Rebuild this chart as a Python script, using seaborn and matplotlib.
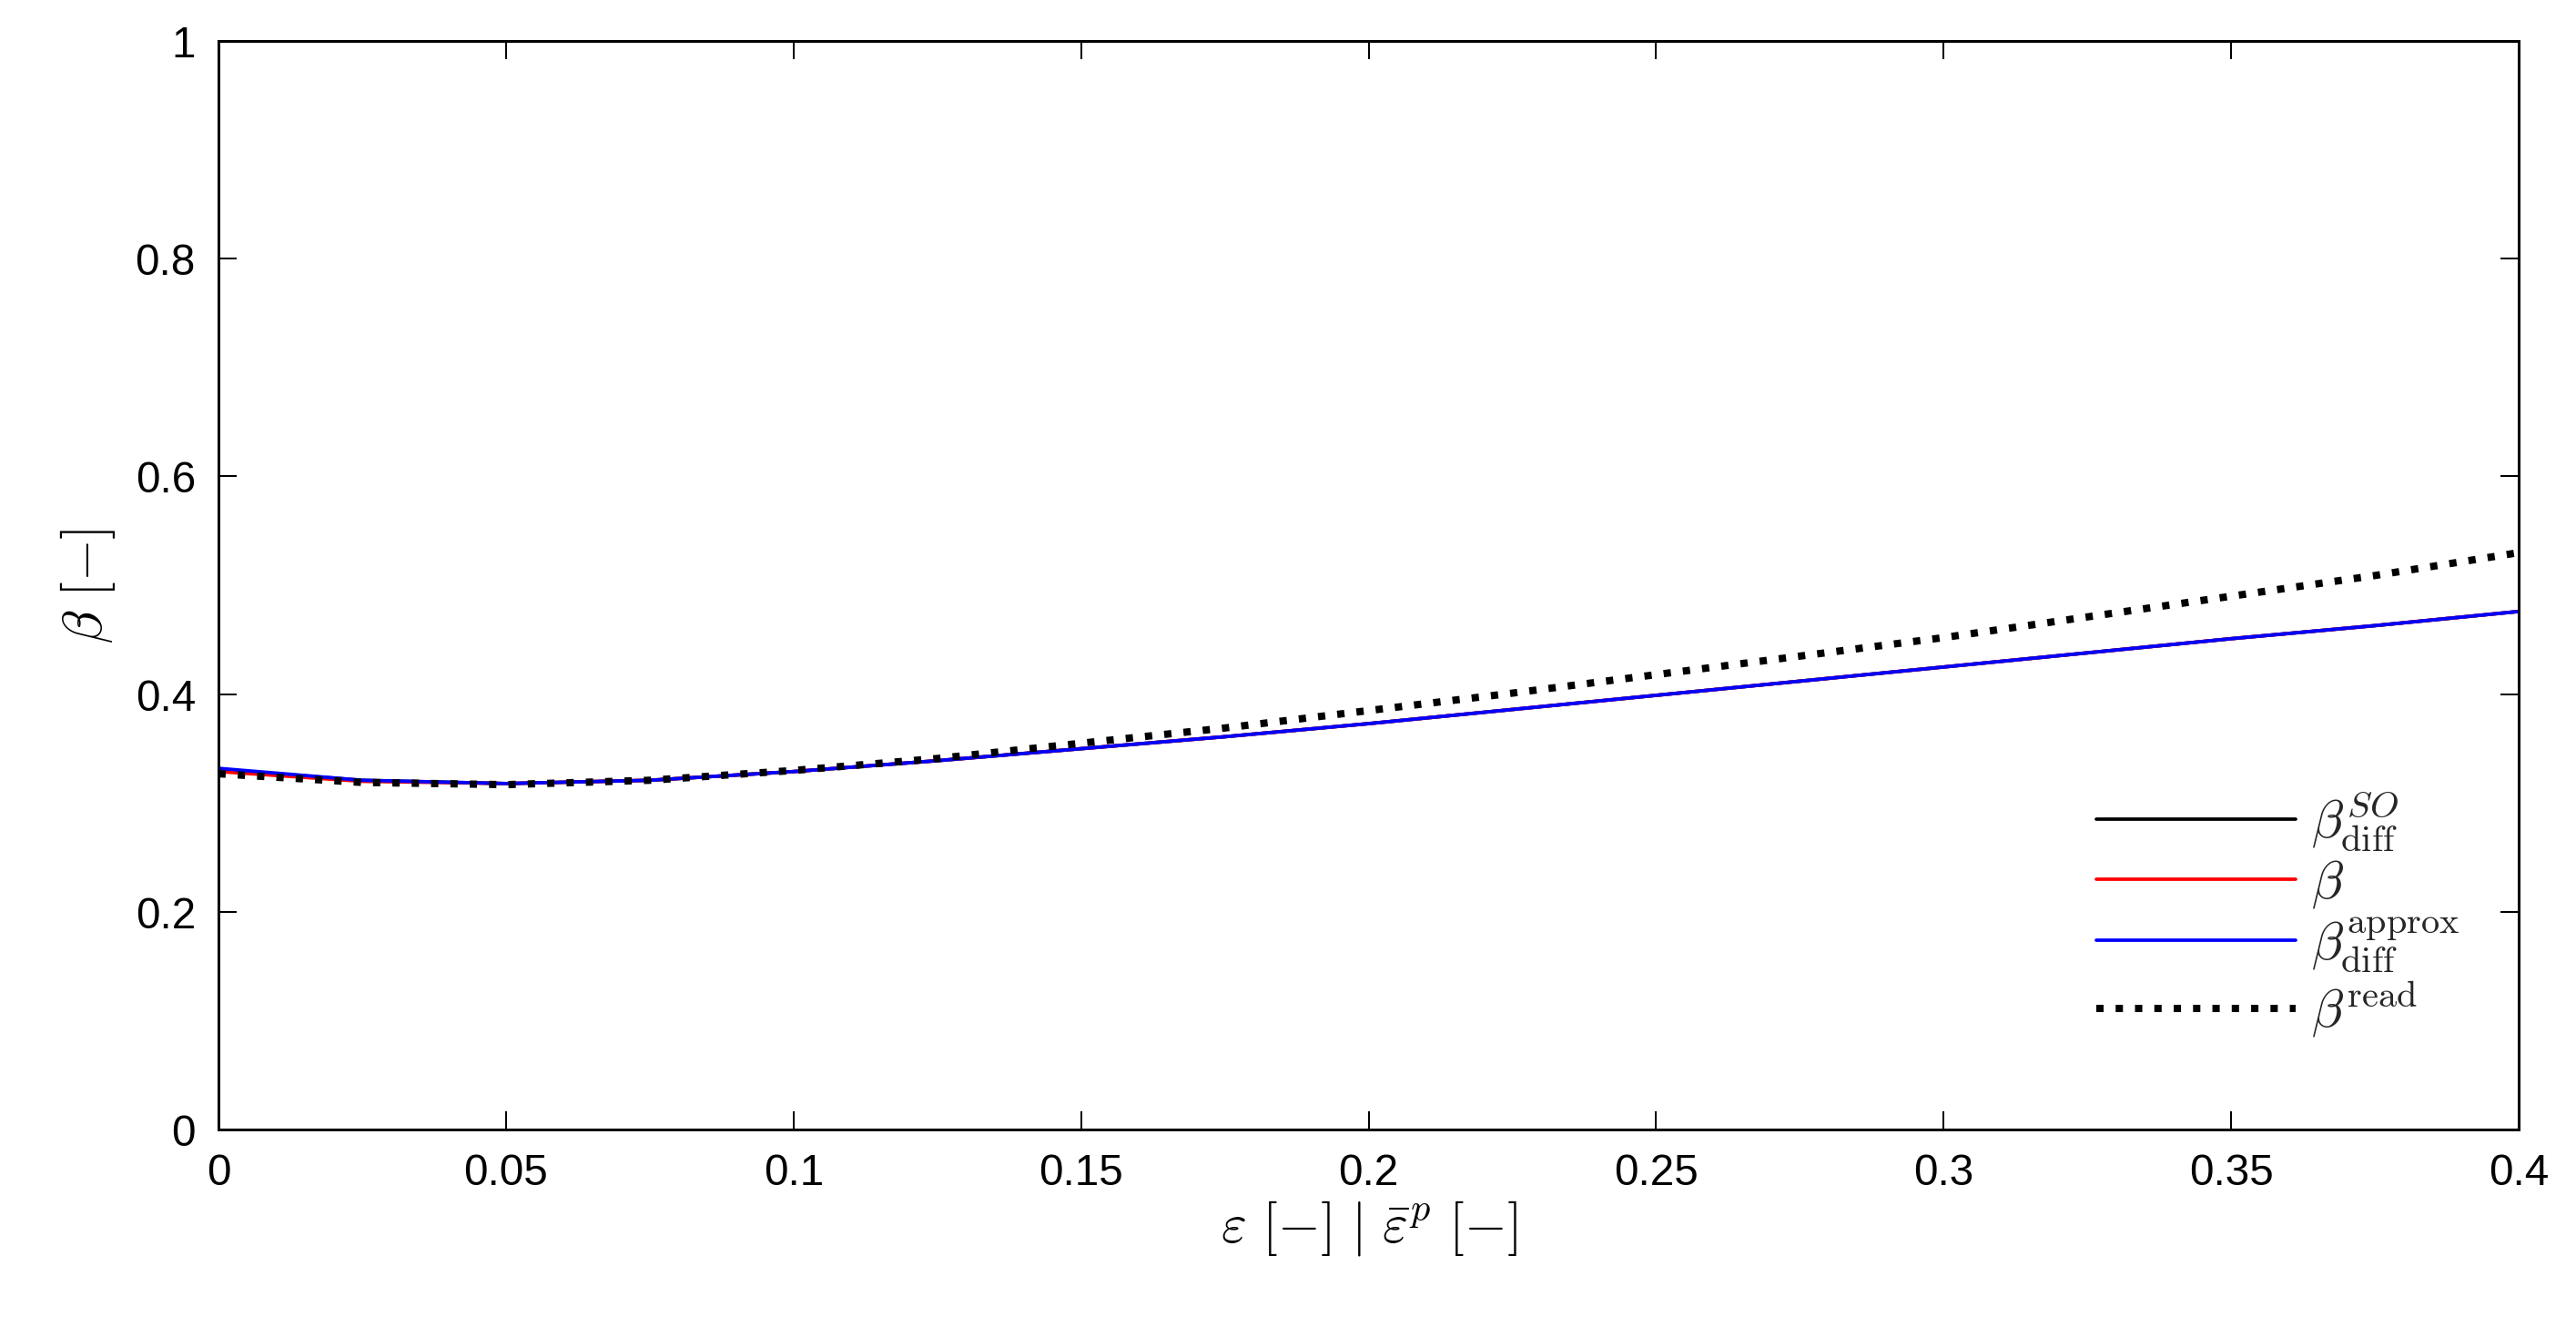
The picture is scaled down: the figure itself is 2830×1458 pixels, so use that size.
import numpy as np
import pandas as pd
import matplotlib
matplotlib.use("Agg")
import matplotlib.pyplot as plt
import seaborn as sns

sns.set_style("ticks")
plt.rcParams["font.family"] = ["Liberation Sans", "DejaVu Sans"]
plt.rcParams["mathtext.fontset"] = "cm"

strain = [0.0, 0.025, 0.05, 0.075, 0.1, 0.125, 0.15, 0.175, 0.2, 0.225, 0.25, 0.275, 0.3, 0.325, 0.35, 0.375, 0.4]
beta_so = [0.331, 0.321, 0.318, 0.321, 0.329, 0.339, 0.350, 0.361, 0.373, 0.386, 0.399, 0.412, 0.425, 0.438, 0.451, 0.463, 0.476]
beta = [0.329, 0.320, 0.318, 0.321, 0.329, 0.339, 0.350, 0.361, 0.373, 0.386, 0.399, 0.412, 0.425, 0.438, 0.451, 0.463, 0.476]
beta_approx = [0.332, 0.321, 0.318, 0.321, 0.329, 0.339, 0.350, 0.361, 0.373, 0.386, 0.399, 0.412, 0.425, 0.438, 0.451, 0.463, 0.476]
beta_read = [0.327, 0.319, 0.317, 0.321, 0.330, 0.341, 0.355, 0.369, 0.385, 0.401, 0.418, 0.435, 0.452, 0.471, 0.490, 0.509, 0.530]

labels = [r"$\beta^{SO}_{\mathrm{diff}}$", r"$\beta$",
          r"$\beta^{\mathrm{approx}}_{\mathrm{diff}}$", r"$\beta^{\mathrm{read}}$"]
series = [beta_so, beta, beta_approx, beta_read]
colors = ["black", "red", "blue", "black"]
styles = ["-", "-", "-", ":"]
widths = [1.5, 1.5, 1.5, 3.2]

fig = plt.figure(figsize=(15.68, 8.08), dpi=180.5)
ax = fig.add_axes([0.0848, 0.1485, 0.8929, 0.8205])
for y, lab, c, ls, lw in zip(series, labels, colors, styles, widths):
    df = pd.DataFrame({"x": strain, "y": y})
    sns.lineplot(data=df, x="x", y="y", ax=ax, color=c, linestyle=ls, linewidth=lw, label=lab)

ax.set_xlim(0, 0.4)
ax.set_ylim(0, 1)
ax.set_xticks([0, 0.05, 0.1, 0.15, 0.2, 0.25, 0.3, 0.35, 0.4])
ax.set_xticklabels(["0", "0.05", "0.1", "0.15", "0.2", "0.25", "0.3", "0.35", "0.4"])
ax.set_yticks([0, 0.2, 0.4, 0.6, 0.8, 1])
ax.set_yticklabels(["0", "0.2", "0.4", "0.6", "0.8", "1"])
ax.tick_params(direction="in", top=True, right=True, labelsize=19, length=8, pad=10,
               colors="black")
for s in ax.spines.values():
    s.set_linewidth(1.2)
    s.set_color("black")
ax.set_xlabel(r"$\varepsilon\ [-]\ |\ \bar{\varepsilon}^{p}\ [-]$", fontsize=24, labelpad=2, color="black")
ax.set_ylabel(r"$\beta\ [-]$", fontsize=24, color="black", labelpad=8)
ax.legend(loc="lower right", frameon=False, fontsize=23, handlelength=3.8,
          bbox_to_anchor=(0.995, 0.04), labelspacing=0.1, handletextpad=0.3)

fig.savefig("out.png", dpi=180.5)
